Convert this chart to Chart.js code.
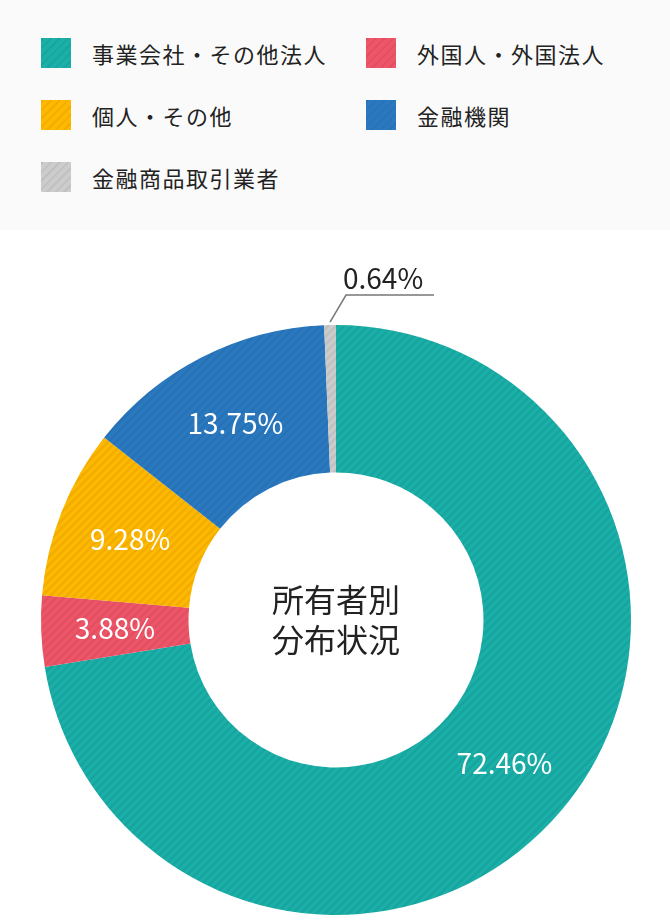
<!DOCTYPE html>
<html lang="ja">
<head>
<meta charset="utf-8">
<script src="https://cdn.jsdelivr.net/npm/chart.js@4"></script>
<style>
  html, body { margin: 0; padding: 0; background: #fff; }
  body { width: 670px; height: 922px; overflow: hidden; font-family: "Noto Sans CJK JP", "Noto Sans", sans-serif; }
  #legend {
    height: 230px; background: #fafafa; box-sizing: border-box;
    padding: 38px 0 0 41px; display: grid; grid-template-columns: 325px 300px;
    grid-auto-rows: 62px;
  }
  .item { display: flex; align-items: flex-start; font-size: 22px; color: #222; letter-spacing: 1.5px; }
  .sw { width: 30px; height: 30px; margin-right: 21px; flex: none; }
  .item span { line-height: 30px; }
  #wrap { position: relative; width: 670px; height: 692px; }
</style>
</head>
<body>
<div id="legend"></div>
<div id="wrap"><canvas id="chart" width="670" height="692"></canvas></div>
<script>
(function () {
  "use strict";

  // ── Data ─────────────────────────────────────────────────────────
  const categories = ["事業会社・その他法人", "外国人・外国法人", "個人・その他", "金融機関", "金融商品取引業者"];
  const shares = [72.46, 3.88, 9.28, 13.75, 0.64];
  const colors = ["#1aafa8", "#ef5568", "#ffb800", "#2a79c0", "#cccccc"];
  const centerLines = ["所有者別", "分布状況"];

  // ── Hatch patterns ───────────────────────────────────────────────
  function hatch(color) {
    var c = document.createElement("canvas");
    c.width = 8; c.height = 8;
    var g = c.getContext("2d");
    g.fillStyle = color;
    g.fillRect(0, 0, 8, 8);
    g.strokeStyle = "rgba(0,0,0,0.06)";
    g.lineWidth = 2.5;
    g.beginPath();
    g.moveTo(-4, 4); g.lineTo(4, -4);
    g.moveTo(0, 8); g.lineTo(8, 0);
    g.moveTo(4, 12); g.lineTo(12, 4);
    g.stroke();
    return g.createPattern(c, "repeat");
  }

  // ── Legend ───────────────────────────────────────────────────────
  var legend = document.getElementById("legend");
  categories.forEach(function (name, i) {
    var d = document.createElement("div");
    d.className = "item";
    d.innerHTML = "<div class='sw' style='background:" + colors[i] +
      " repeating-linear-gradient(-45deg, rgba(0,0,0,0) 0 4px, rgba(0,0,0,0.06) 4px 6px)'></div><span>" + name + "</span>";
    legend.appendChild(d);
  });

  // ── Labels plugin ────────────────────────────────────────────────
  const labelPlugin = {
    id: "sliceLabels",
    afterDatasetsDraw: function (chart) {
      var ctx = chart.ctx;
      var meta = chart.getDatasetMeta(0);
      ctx.save();
      ctx.font = "28px 'Noto Sans CJK JP', 'Noto Sans', sans-serif";
      meta.data.forEach(function (arc, i) {
        var p = arc.getProps(["x", "y", "startAngle", "endAngle", "innerRadius", "outerRadius"], true);
        var mid = (p.startAngle + p.endAngle) / 2;
        var text = shares[i].toFixed(2) + "%";
        if (shares[i] < 2) {
          var sx = p.x + Math.cos(mid) * (p.outerRadius + 3);
          var sy = p.y + Math.sin(mid) * (p.outerRadius + 3);
          var ex = sx + 16, ey = sy - 27;
          ctx.strokeStyle = "#777";
          ctx.lineWidth = 1.5;
          ctx.beginPath();
          ctx.moveTo(sx, sy); ctx.lineTo(ex, ey); ctx.lineTo(ex + 88, ey);
          ctx.stroke();
          ctx.fillStyle = "#222";
          ctx.textAlign = "left";
          ctx.textBaseline = "alphabetic";
          ctx.fillText(text, ex - 3, ey - 6);
        } else {
          var r = (p.innerRadius + p.outerRadius) / 2;
          ctx.fillStyle = "#fff";
          ctx.textAlign = "center";
          ctx.textBaseline = "middle";
          ctx.fillText(text, p.x + Math.cos(mid) * r, p.y + Math.sin(mid) * r);
        }
      });
      var a = meta.data[0];
      ctx.fillStyle = "#222";
      ctx.font = "32px 'Noto Sans CJK JP', sans-serif";
      ctx.textAlign = "center";
      ctx.textBaseline = "middle";
      ctx.fillText(centerLines[0], a.x, a.y - 20);
      ctx.fillText(centerLines[1], a.x, a.y + 20);
      ctx.restore();
    },
  };

  // ── Chart ────────────────────────────────────────────────────────
  new Chart(document.getElementById("chart"), {
    type: "doughnut",
    data: {
      labels: categories,
      datasets: [{
        data: shares,
        backgroundColor: colors.map(hatch),
        borderWidth: 0,
      }],
    },
    options: {
      responsive: false,
      animation: false,
      cutout: "50%",
      layout: { padding: { top: 95, bottom: 7, left: 41, right: 39 } },
      plugins: { legend: { display: false }, tooltip: { enabled: false } },
    },
    plugins: [labelPlugin],
  });
})();
</script>
</body>
</html>
